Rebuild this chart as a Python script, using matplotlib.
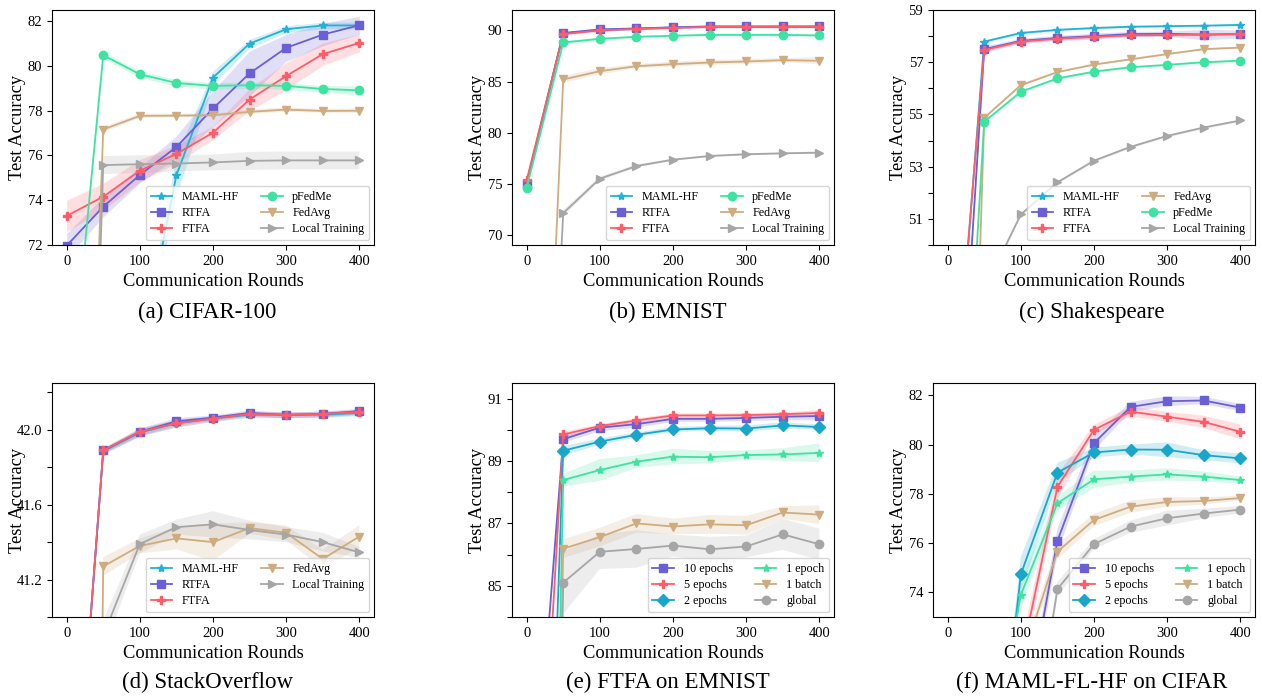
import numpy as np
import matplotlib
matplotlib.use("Agg")
import matplotlib.pyplot as plt

plt.rcParams['font.family'] = ['Liberation Serif', 'DejaVu Serif']
plt.rcParams['mathtext.fontset'] = 'stix'

rounds = [0, 50, 100, 150, 200, 250, 300, 350, 400]

# (a) CIFAR-100
a_maml = [60.0, 63.0, 66.9, 75.12, 79.48, 81.0, 81.64, 81.81, 81.81]
a_maml_sd = [0.3, 0.3, 0.6, 0.9, 0.3, 0.2, 0.15, 0.15, 0.15]
a_rtfa = [71.97, 73.71, 75.13, 76.38, 78.1, 79.67, 80.81, 81.4, 81.82]
a_rtfa_sd = [0.55, 0.45, 0.35, 0.5, 0.8, 1.0, 0.6, 0.5, 0.4]
a_ftfa = [73.3, 74.16, 75.32, 76.07, 77.02, 78.5, 79.55, 80.53, 81.03]
a_ftfa_sd = [0.7, 0.6, 0.5, 0.4, 0.3, 0.5, 0.6, 0.5, 0.4]
a_pfedme = [63.5, 80.48, 79.63, 79.24, 79.11, 79.14, 79.11, 78.97, 78.91]
a_pfedme_sd = [0.2, 0.15, 0.15, 0.15, 0.15, 0.15, 0.15, 0.15, 0.2]
a_fedavg = [31.0, 77.16, 77.77, 77.78, 77.8, 77.95, 78.05, 77.99, 78.0]
a_fedavg_sd = [0.1, 0.12, 0.1, 0.08, 0.08, 0.1, 0.1, 0.08, 0.1]
a_local = [25.0, 75.57, 75.61, 75.64, 75.69, 75.76, 75.78, 75.78, 75.78]
a_local_sd = [0.3, 0.4, 0.4, 0.35, 0.35, 0.4, 0.4, 0.4, 0.4]

# (b) EMNIST
b_maml = [75.07, 89.7, 90.05, 90.15, 90.3, 90.35, 90.35, 90.35, 90.35]
b_rtfa = [75.0, 89.75, 90.1, 90.2, 90.3, 90.4, 90.4, 90.4, 90.4]
b_ftfa = [75.33, 89.65, 90.0, 90.15, 90.25, 90.35, 90.35, 90.35, 90.35]
b_pfedme = [74.6, 88.82, 89.18, 89.38, 89.48, 89.57, 89.57, 89.57, 89.51]
b_fedavg = [4.0, 85.2, 86.01, 86.5, 86.7, 86.86, 86.96, 87.09, 87.03]
b_local = [2.0, 72.12, 75.49, 76.73, 77.35, 77.71, 77.88, 77.97, 78.04]
b_small_sd = [0.1, 0.1, 0.1, 0.1, 0.1, 0.1, 0.1, 0.1, 0.1]
b_pfedme_sd = [0.1, 0.2, 0.15, 0.1, 0.1, 0.1, 0.1, 0.1, 0.1]
b_fedavg_sd = [0.3, 0.35, 0.3, 0.2, 0.25, 0.25, 0.25, 0.2, 0.35]
b_local_sd = [0.2, 0.3, 0.2, 0.15, 0.1, 0.1, 0.1, 0.1, 0.1]

# (c) Shakespeare
c_maml = [40.0, 57.79, 58.12, 58.24, 58.31, 58.36, 58.38, 58.4, 58.43]
c_rtfa = [35.4, 57.5, 57.82, 57.93, 58.0, 58.08, 58.09, 58.06, 58.08]
c_ftfa = [40.7, 57.47, 57.79, 57.9, 57.97, 58.03, 58.04, 58.06, 58.07]
c_fedavg = [10.0, 54.87, 56.12, 56.62, 56.91, 57.11, 57.31, 57.5, 57.56]
c_pfedme = [31.1, 54.72, 55.87, 56.38, 56.64, 56.81, 56.9, 57.0, 57.06]
c_local = [35.0, 48.3, 51.17, 52.4, 53.23, 53.76, 54.18, 54.5, 54.77]
c_small_sd = [0.05, 0.05, 0.05, 0.04, 0.04, 0.04, 0.04, 0.04, 0.04]
c_rtfa_sd = [0.1, 0.12, 0.1, 0.1, 0.12, 0.1, 0.1, 0.2, 0.15]

# (d) StackOverflow
d_maml = [39.3, 41.885, 41.985, 42.035, 42.06, 42.08, 42.08, 42.08, 42.09]
d_rtfa = [39.3, 41.89, 41.99, 42.045, 42.065, 42.09, 42.08, 42.085, 42.1]
d_ftfa = [39.3, 41.89, 41.99, 42.035, 42.06, 42.085, 42.08, 42.085, 42.095]
d_fedavg = [25.0, 41.27, 41.38, 41.42, 41.4, 41.475, 41.45, 41.31, 41.43]
d_local = [30.0, 40.9, 41.39, 41.48, 41.495, 41.465, 41.44, 41.4, 41.345]
d_small_sd = [0.01, 0.015, 0.02, 0.02, 0.015, 0.015, 0.015, 0.015, 0.015]
d_fedavg_sd = [0.05, 0.05, 0.04, 0.06, 0.1, 0.03, 0.04, 0.05, 0.06]
d_local_sd = [0.05, 0.08, 0.05, 0.04, 0.07, 0.05, 0.04, 0.05, 0.03]

# (e) FTFA on EMNIST
e_10ep = [74.7, 89.7, 90.07, 90.18, 90.35, 90.35, 90.38, 90.42, 90.44]
e_5ep = [69.7, 89.85, 90.12, 90.3, 90.46, 90.46, 90.47, 90.5, 90.54]
e_2ep = [56.0, 89.33, 89.62, 89.84, 90.01, 90.05, 90.04, 90.14, 90.09]
e_1ep = [33.0, 88.39, 88.71, 88.98, 89.14, 89.12, 89.19, 89.21, 89.26]
e_1batch = [31.0, 86.19, 86.56, 87.0, 86.9, 86.97, 86.94, 87.35, 87.28]
e_global = [20.0, 85.1, 86.09, 86.18, 86.29, 86.17, 86.26, 86.65, 86.33]
e_10ep_sd = [0.1, 0.1, 0.1, 0.1, 0.08, 0.08, 0.08, 0.1, 0.12]
e_5ep_sd = [0.1, 0.1, 0.08, 0.08, 0.08, 0.08, 0.08, 0.08, 0.1]
e_2ep_sd = [0.1, 0.15, 0.1, 0.08, 0.08, 0.08, 0.1, 0.1, 0.08]
e_1ep_sd = [0.2, 0.2, 0.35, 0.2, 0.25, 0.2, 0.15, 0.2, 0.3]
e_1batch_sd = [0.2, 0.3, 0.3, 0.3, 0.25, 0.3, 0.3, 0.2, 0.3]
e_global_sd = [0.3, 1.0, 0.55, 0.6, 0.35, 0.4, 0.35, 0.5, 0.5]

# (f) MAML-FL-HF on CIFAR
f_10ep = [20.0, 40.0, 67.9, 76.09, 80.06, 81.53, 81.76, 81.79, 81.5]
f_5ep = [30.0, 50.0, 71.2, 78.28, 80.6, 81.34, 81.13, 80.92, 80.52]
f_2ep = [40.0, 61.5, 74.73, 78.86, 79.68, 79.8, 79.79, 79.57, 79.44]
f_1ep = [45.0, 65.7, 73.9, 77.62, 78.59, 78.7, 78.79, 78.7, 78.56]
f_1batch = [30.0, 50.0, 71.1, 75.65, 76.94, 77.48, 77.67, 77.71, 77.83]
f_global = [25.0, 45.0, 64.7, 74.13, 75.96, 76.67, 77.01, 77.2, 77.36]
f_10ep_sd = [0.3, 0.3, 0.5, 0.5, 0.3, 0.2, 0.2, 0.15, 0.15]
f_5ep_sd = [0.3, 0.3, 0.6, 0.5, 0.2, 0.2, 0.2, 0.25, 0.3]
f_2ep_sd = [0.3, 0.5, 0.7, 0.4, 0.2, 0.2, 0.3, 0.2, 0.2]
f_1ep_sd = [0.3, 0.5, 0.6, 0.3, 0.35, 0.25, 0.25, 0.2, 0.15]
f_1batch_sd = [0.2, 0.3, 0.4, 0.3, 0.25, 0.25, 0.2, 0.15, 0.1]
f_global_sd = [0.2, 0.3, 0.4, 0.3, 0.2, 0.25, 0.3, 0.2, 0.15]

captions = ['(a) CIFAR-100', '(b) EMNIST', '(c) Shakespeare',
            '(d) StackOverflow', '(e) FTFA on EMNIST', '(f) MAML-FL-HF on CIFAR']

C_MAML = '#22b2d6'
C_RTFA = '#6a5fd4'
C_FTFA = '#ff5c6a'
C_PFED = '#3ee3a2'
C_AVG = '#cfac80'
C_LOC = '#a6a6a6'
C_2EP = '#1aa6cb'


def curve(ax, mean, sd, color, marker, label, ms=6):
    m = np.array(mean)
    s = np.array(sd)
    ax.fill_between(rounds, m - s, m + s, color=color, alpha=0.2, linewidth=0)
    ax.plot(rounds, m, color=color, marker=marker, markersize=ms,
            linewidth=1.3, label=label)


W, H = 1262, 696
cols = [(52, 374), (512, 834), (933, 1255)]
rows = [(10, 245), (383, 617)]
fig = plt.figure(figsize=(W / 100, H / 100), dpi=100)
axes = []
for r in rows:
    for c in cols:
        ax = fig.add_axes([c[0] / W, 1 - r[1] / H, (c[1] - c[0]) / W, (r[1] - r[0]) / H])
        axes.append(ax)

ax = axes[0]
curve(ax, a_maml, a_maml_sd, C_MAML, '*', 'MAML-HF', 6)
curve(ax, a_rtfa, a_rtfa_sd, C_RTFA, 's', 'RTFA')
curve(ax, a_ftfa, a_ftfa_sd, C_FTFA, 'P', 'FTFA')
curve(ax, a_pfedme, a_pfedme_sd, C_PFED, 'o', 'pFedMe')
curve(ax, a_fedavg, a_fedavg_sd, C_AVG, 'v', 'FedAvg')
curve(ax, a_local, a_local_sd, C_LOC, '>', 'Local Training')
ax.set_ylim(72, 82.5)
ax.set_yticks([72, 74, 76, 78, 80, 82])

ax = axes[1]
curve(ax, b_maml, b_small_sd, C_MAML, '*', 'MAML-HF', 6)
curve(ax, b_rtfa, b_small_sd, C_RTFA, 's', 'RTFA')
curve(ax, b_ftfa, b_small_sd, C_FTFA, 'P', 'FTFA')
curve(ax, b_pfedme, b_pfedme_sd, C_PFED, 'o', 'pFedMe')
curve(ax, b_fedavg, b_fedavg_sd, C_AVG, 'v', 'FedAvg')
curve(ax, b_local, b_local_sd, C_LOC, '>', 'Local Training')
ax.set_ylim(69, 92)
ax.set_yticks([70, 75, 80, 85, 90])

ax = axes[2]
curve(ax, c_maml, c_small_sd, C_MAML, '*', 'MAML-HF', 6)
curve(ax, c_rtfa, c_rtfa_sd, C_RTFA, 's', 'RTFA')
curve(ax, c_ftfa, c_small_sd, C_FTFA, 'P', 'FTFA')
curve(ax, c_fedavg, c_small_sd, C_AVG, 'v', 'FedAvg')
curve(ax, c_pfedme, c_small_sd, C_PFED, 'o', 'pFedMe')
curve(ax, c_local, c_small_sd, C_LOC, '>', 'Local Training')
ax.set_ylim(50, 59)
ax.set_yticks(range(50, 60))
ax.set_yticklabels([str(v) if v % 2 else '' for v in range(50, 60)])

ax = axes[3]
curve(ax, d_maml, d_small_sd, C_MAML, '*', 'MAML-HF', 6)
curve(ax, d_rtfa, d_small_sd, C_RTFA, 's', 'RTFA')
curve(ax, d_ftfa, d_small_sd, C_FTFA, 'P', 'FTFA')
curve(ax, d_fedavg, d_fedavg_sd, C_AVG, 'v', 'FedAvg')
curve(ax, d_local, d_local_sd, C_LOC, '>', 'Local Training')
ax.set_ylim(41.0, 42.25)
dt = [41.0, 41.2, 41.4, 41.6, 41.8, 42.0, 42.2]
ax.set_yticks(dt)
ax.set_yticklabels(['', '41.2', '', '41.6', '', '42.0', ''])

ax = axes[4]
curve(ax, e_10ep, e_10ep_sd, C_RTFA, 's', '10 epochs')
curve(ax, e_5ep, e_5ep_sd, C_FTFA, 'P', '5 epochs')
curve(ax, e_2ep, e_2ep_sd, C_2EP, 'D', '2 epochs')
curve(ax, e_1ep, e_1ep_sd, C_PFED, '*', '1 epoch', 6)
curve(ax, e_1batch, e_1batch_sd, C_AVG, 'v', '1 batch')
curve(ax, e_global, e_global_sd, C_LOC, 'o', 'global')
ax.set_ylim(84, 91.5)
ax.set_yticks(range(84, 92))
ax.set_yticklabels([str(v) if v % 2 else '' for v in range(84, 92)])

ax = axes[5]
curve(ax, f_10ep, f_10ep_sd, C_RTFA, 's', '10 epochs')
curve(ax, f_5ep, f_5ep_sd, C_FTFA, 'P', '5 epochs')
curve(ax, f_2ep, f_2ep_sd, C_2EP, 'D', '2 epochs')
curve(ax, f_1ep, f_1ep_sd, C_PFED, '*', '1 epoch', 6)
curve(ax, f_1batch, f_1batch_sd, C_AVG, 'v', '1 batch')
curve(ax, f_global, f_global_sd, C_LOC, 'o', 'global')
ax.set_ylim(73, 82.5)
ax.set_yticks([74, 76, 78, 80, 82])

cap_x = [207, 668, 1092]
for i, ax in enumerate(axes):
    ax.set_xlim(-20, 420)
    ax.set_xticks([0, 100, 200, 300, 400])
    ax.tick_params(labelsize=10.5)
    ax.set_xlabel('Communication Rounds', fontsize=13.3)
    ax.set_ylabel('Test Accuracy', fontsize=13.3)
    ax.yaxis.set_label_coords(-0.08, 0.5)
    ax.legend(loc='lower right', ncol=2, fontsize=8.7, handlelength=1.8,
              columnspacing=1.8, borderaxespad=0.4, labelspacing=0.35)
    cy = 312 if i < 3 else 682
    fig.text(cap_x[i % 3] / W, 1 - cy / H, captions[i], fontsize=16.5,
             ha='center', va='center')

fig.savefig('out.png', dpi=100)
